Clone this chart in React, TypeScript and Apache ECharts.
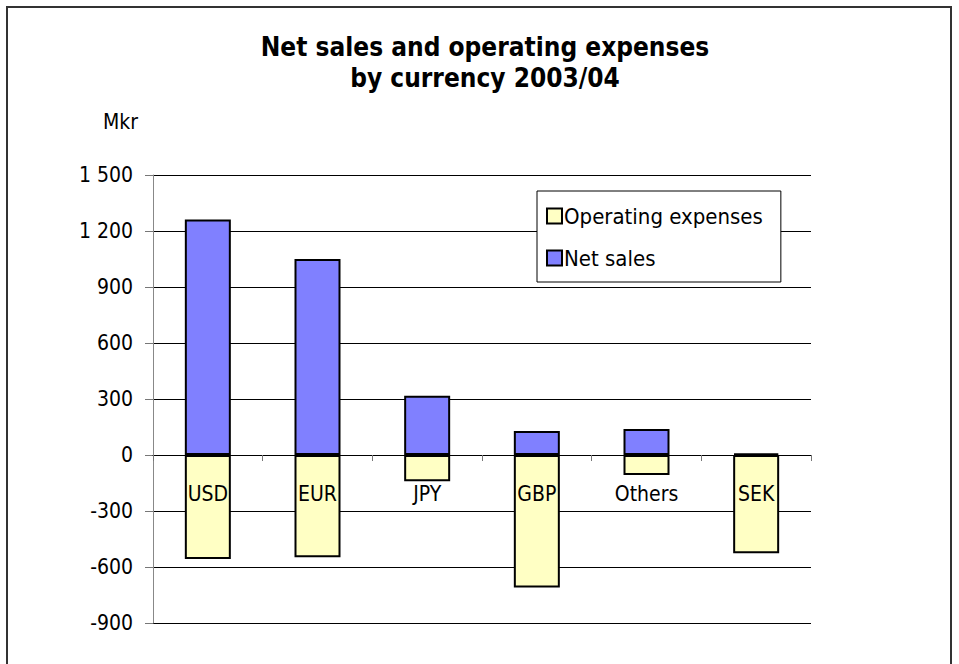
import React, { useEffect, useRef } from "react";
import * as echarts from "echarts";

const categories = ["USD", "EUR", "JPY", "GBP", "Others", "SEK"];
const netSales = [1262, 1050, 318, 129, 139, 9];
const operatingExpenses = [-557, -548, -140, -710, -107, -527];
const yTicks = { min: -900, max: 1500, interval: 300 };
const titleText = "Net sales and operating expenses\nby currency 2003/04";
const unitLabel = "Mkr";

const FONT = "'DejaVu Sans Condensed', 'Liberation Sans Narrow', sans-serif";

export default function App() {
  const ref = useRef<HTMLDivElement>(null);
  useEffect(() => {
    const chart = echarts.init(ref.current!, undefined, { renderer: "svg" });
    const gridTop = 175;
    const gridBottom = 41;
    const plotH = 664 - gridTop - gridBottom;
    const zeroOffset = (plotH * (0 - yTicks.min)) / (yTicks.max - yTicks.min);
    chart.setOption({
      animation: false,
      backgroundColor: "#fff",
      textStyle: { fontFamily: FONT },
      title: {
        text: titleText,
        left: 480,
        top: 26,
        textAlign: "center",
        textStyle: { fontFamily: FONT, fontSize: 26, fontWeight: "bold", color: "#000", lineHeight: 31 },
      },
      graphic: [
        {
          type: "rect",
          shape: { x: 7, y: 7, width: 944, height: 720 },
          style: { fill: "none", stroke: "#333", lineWidth: 2 },
          silent: true,
        },
        {
          type: "text",
          x: 103,
          y: 122,
          style: { text: unitLabel, fontFamily: FONT, fontSize: 21, fill: "#000", verticalAlign: "middle" },
        },
      ],
      legend: {
        orient: "vertical",
        left: 537,
        top: 191,
        width: 244,
        padding: [14, 18, 13, 9],
        itemGap: 20,
        itemWidth: 15,
        itemHeight: 15,
        icon: "rect",
        borderColor: "#000",
        borderWidth: 1,
        backgroundColor: "#fff",
        textStyle: { fontFamily: FONT, fontSize: 22, color: "#000", padding: [0, 0, 0, -3] },
        data: ["Operating expenses", "Net sales"],
      },
      grid: { left: 153, right: 148, top: gridTop, bottom: gridBottom, containLabel: false, outerBoundsMode: "none" },
      xAxis: {
        type: "category",
        data: categories,
        z: 10,
        offset: -zeroOffset,
        axisLine: { onZero: false, lineStyle: { color: "#000", width: 1 } },
        axisTick: { show: true, length: 6, lineStyle: { color: "#777" } },
        axisLabel: { margin: 28, fontFamily: FONT, fontSize: 21, color: "#000" },
        splitLine: { show: false },
      },
      yAxis: {
        type: "value",
        min: yTicks.min,
        max: yTicks.max,
        interval: yTicks.interval,
        axisLine: { show: true, lineStyle: { color: "#888", width: 1 } },
        axisTick: { show: true, length: 8, lineStyle: { color: "#777" } },
        axisLabel: {
          margin: 20,
          fontFamily: FONT,
          fontSize: 21,
          color: "#000",
          formatter: (v: number) => {
            const s = Math.abs(v).toString().replace(/\B(?=(\d{3})+(?!\d))/g, " ");
            return (v < 0 ? "-" : "") + s;
          },
        },
        splitLine: { show: true, lineStyle: { color: "#000", width: 1 } },
      },
      series: [
        {
          name: "Operating expenses",
          type: "bar",
          data: operatingExpenses,
          barWidth: 46,
          barGap: "-100%",
          itemStyle: { color: "#FFFFC4", borderColor: "#000", borderWidth: 2 },
        },
        {
          name: "Net sales",
          type: "bar",
          data: netSales,
          barWidth: 46,
          barGap: "-100%",
          itemStyle: { color: "#8080FF", borderColor: "#000", borderWidth: 2 },
        },
      ],
    });
    return () => chart.dispose();
  }, []);
  return <div ref={ref} style={{ position: "absolute", left: 0, top: 0, width: 959, height: 664 }} />;
}
